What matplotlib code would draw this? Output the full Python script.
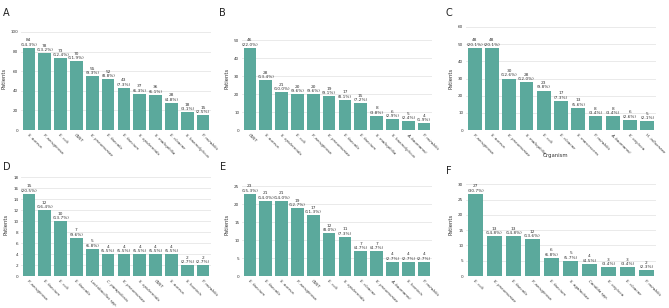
import matplotlib
matplotlib.use("Agg")
import matplotlib.pyplot as plt

BAR_COLOR = "#5ba99c"

# Panel data
a_labels = ["S. aureus", "P. aeruginosa", "E. coli", "CNST", "K. pneumoniae", "E. faecalis",
            "E. faecium", "S. epidermidis", "S. maltophilia", "E. cloacae", "S. haemolyticus", "P. mirabilis"]
a_values = [84, 78, 73, 70, 55, 52, 43, 37, 36, 28, 18, 15]
a_pct = ["14.3%", "13.2%", "12.4%", "11.9%", "9.3%", "8.8%", "7.3%", "6.3%", "6.1%", "4.8%", "3.1%", "2.5%"]

b_labels = ["CNST", "S. aureus", "S. epidermidis", "E. coli", "P. aeruginosa", "K. pneumoniae",
            "E. faecalis", "E. faecium", "S. maltophilia", "S. haemolyticus", "A. baumannii", "P. mirabilis"]
b_values = [46, 28, 21, 20, 20, 19, 17, 15, 8, 6, 5, 4]
b_pct = ["22.0%", "13.4%", "10.0%", "9.6%", "9.6%", "9.1%", "8.1%", "7.2%", "3.8%", "2.9%", "2.4%", "1.9%"]

c_labels = ["P. aeruginosa", "S. aureus", "K. pneumoniae", "S. maltophilia", "E. coli", "E. cloacae",
            "S. marcescens", "P. mirabilis", "A. baumannii", "K. oxytoca", "H. influenzae"]
c_values = [48, 48, 30, 28, 23, 17, 13, 8, 8, 6, 5]
c_pct = ["20.1%", "20.1%", "12.6%", "12.0%", "9.8%", "7.3%", "5.6%", "3.4%", "3.4%", "2.6%", "2.1%"]

d_labels = ["P. aeruginosa", "E. faecium", "E. coli", "E. faecalis", "Lactobacillus spp.", "C. parapsilosis",
            "K. pneumoniae", "S. epidermidis", "CNST", "S. aureus", "S. hominis", "P. mirabilis"]
d_values = [15, 12, 10, 7, 5, 4, 4, 4, 4, 4, 2, 2]
d_pct = ["20.5%", "16.4%", "13.7%", "9.6%", "6.8%", "5.5%", "5.5%", "5.5%", "5.5%", "5.5%", "2.7%", "2.7%"]

e_labels = ["E. faecium", "E. faecalis", "S. aureus", "P. aeruginosa", "CNST", "E. coli",
            "S. epidermidis", "E. cloacae", "K. pneumoniae", "A. baumannii", "S. hominis", "P. mirabilis"]
e_values = [23, 21, 21, 19, 17, 12, 11, 7, 7, 4, 4, 4]
e_pct = ["15.3%", "14.0%", "14.0%", "12.7%", "11.3%", "8.0%", "7.3%", "4.7%", "4.7%", "2.7%", "2.7%", "2.7%"]

f_labels = ["E. coli", "K. pneumoniae", "E. faecalis", "P. aeruginosa", "E. faecium", "S. agalactiae",
            "Candida spp.", "K. oxytoca", "E. cloacae", "P. mirabilis"]
f_values = [27, 13, 13, 12, 6, 5, 4, 3, 3, 2]
f_pct = ["30.7%", "14.8%", "14.8%", "13.6%", "6.8%", "5.7%", "4.5%", "3.4%", "3.4%", "2.3%"]

panels = [
    ("A", a_labels, a_values, a_pct, 20, 105),
    ("B", b_labels, b_values, b_pct, 10, 57.5),
    ("C", c_labels, c_values, c_pct, 10, 60),
    ("D", d_labels, d_values, d_pct, 2, 18.75),
    ("E", e_labels, e_values, e_pct, 5, 28.75),
    ("F", f_labels, f_values, f_pct, 5, 33.75),
]

W, H = 669, 308
fig = plt.figure(figsize=(W / 100, H / 100), dpi=100)
fig.patch.set_facecolor("white")

lefts = [21, 242, 466]
tops = [27, 173]
aw, ah = 190, 103
letter_pos = [(3, 13), (219, 13), (446, 13), (3, 167), (220, 167), (446, 171)]

for i, (letter, labels, values, pcts, step, ytop) in enumerate(panels):
    r, c = divmod(i, 3)
    left = lefts[c]
    top = tops[r]
    ax = fig.add_axes([left / W, 1 - (top + ah) / H, aw / W, ah / H])
    x = list(range(len(values)))
    ax.bar(x, values, width=0.8, color=BAR_COLOR, zorder=2)
    ax.set_xlim(-0.5, len(values) - 0.5)
    ax.set_ylim(0, ytop)
    ticks = []
    t = 0
    while t <= ytop + 1e-9:
        ticks.append(t)
        t += step
    ax.set_yticks(ticks)
    ax.set_yticklabels([str(int(v)) for v in ticks], fontsize=3.0, color="#333333")
    ax.grid(axis="y", color="#e6e6e6", linewidth=0.6, zorder=0)
    ax.set_axisbelow(True)
    for s in ax.spines.values():
        s.set_visible(False)
    ax.tick_params(axis="both", length=0, pad=2)
    ax.set_xticks(x)
    ax.set_xticklabels(labels, rotation=-45, ha="left", rotation_mode="anchor",
                       fontsize=2.9, color="#333333", style="italic")
    for xi, v, p in zip(x, values, pcts):
        ax.text(xi, v + ytop * 0.01, f"{v}\n({p})", ha="center", va="bottom",
                fontsize=3.1, color="#333333", linespacing=1.1)
    ax.set_ylabel("Patients", fontsize=3.8, color="#333333", labelpad=3)
    lx, ly = letter_pos[i]
    fig.text(lx / W, 1 - ly / H, letter, fontsize=7, color="#222222", ha="left", va="center")

fig.text(556 / W, 1 - 155 / H, "Organism", fontsize=3.8, color="#333333", ha="center", va="center")

fig.savefig("out.png", dpi=100, facecolor="white")
